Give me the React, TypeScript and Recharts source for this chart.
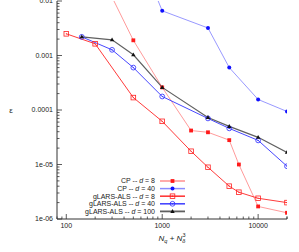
import React from "react";
import { LineChart, Line, XAxis, YAxis } from "recharts";

// N_q + N_delta^3 sample sizes and errors
const cp8X = [200, 500, 1000, 2000, 3000, 5000, 6300, 10000, 20000];
const cp8Y = [0.05, 0.0019, 0.00026, 4.2e-5, 3.9e-5, 2.8e-5, 1.0e-5, 1.7e-6, 1.3e-6];

const cp40X = [500, 1000, 3000, 5000, 10000, 20000];
const cp40Y = [0.13, 0.0066, 0.0032, 6.0e-4, 1.56e-4, 9.4e-5];

const gl8X = [100, 200, 500, 1000, 2000, 3000, 5000, 6300, 10000, 20000];
const gl8Y = [0.0025, 0.00164, 1.69e-4, 6.2e-5, 1.75e-5, 8.9e-6, 4.0e-6, 3.1e-6, 2.4e-6, 2.0e-6];

const gl40X = [145, 300, 500, 1000, 3000, 5000, 10000, 20000];
const gl40Y = [0.0022, 0.00127, 6.0e-4, 1.77e-4, 7.0e-5, 4.6e-5, 2.77e-5, 9.3e-6];

const gl100X = [145, 300, 500, 1000, 3000, 5000, 10000, 20000];
const gl100Y = [0.0022, 0.00194, 0.00103, 2.6e-4, 7.3e-5, 5.0e-5, 3.15e-5, 1.67e-5];

const xDecades = [10, 100, 1000, 10000];
const yDecades = [1e-6, 1e-5, 1e-4, 1e-3];
const xDomain = [80, 20000];
const yDomain = [1e-6, 0.01];

const xTicks = xDecades
  .flatMap((d) => [1, 2, 3, 4, 5, 6, 7, 8, 9].map((k) => k * d))
  .filter((v) => v >= xDomain[0] && v <= xDomain[1])
  .concat([20000]);
const yTicks = yDecades.flatMap((d) => [1, 2, 3, 4, 5, 6, 7, 8, 9].map((k) => k * d)).concat([0.01]);

const zip = (xs: number[], ys: number[]) => xs.map((x, i) => ({ x, y: ys[i] }));

const FONT = "'Liberation Sans', Arial, sans-serif";
const AXIS = "#333";

const isMajor = (v: number) => Math.abs(Math.log10(v) - Math.round(Math.log10(v))) < 1e-6;
const fmtY = (v: number) => {
  const e = Math.round(Math.log10(v));
  return e <= -5 ? `1e-0${-e}` : String(v);
};

type Marker = "fsquare" | "fcircle" | "osquare" | "ocircle" | "triangle";

const series = [
  { name: "CP", d: "8", data: zip(cp8X, cp8Y), line: "#ff8f8f", mark: "#ff1a1a", width: 0.9, marker: "fsquare" as Marker },
  { name: "CP", d: "40", data: zip(cp40X, cp40Y), line: "#8c8cff", mark: "#1010ff", width: 0.9, marker: "fcircle" as Marker },
  { name: "gLARS-ALS", d: "8", data: zip(gl8X, gl8Y), line: "#ff3b3b", mark: "#ff2020", width: 1, marker: "osquare" as Marker },
  { name: "gLARS-ALS", d: "40", data: zip(gl40X, gl40Y), line: "#4848ff", mark: "#2a2aff", width: 1, marker: "ocircle" as Marker },
  { name: "gLARS-ALS", d: "100", data: zip(gl100X, gl100Y), line: "#606060", mark: "#111", width: 1.2, marker: "triangle" as Marker },
];

function drawMarker(kind: Marker, cx: number, cy: number, color: string, key?: any) {
  switch (kind) {
    case "fsquare":
      return <rect key={key} x={cx - 1.9} y={cy - 1.9} width={3.8} height={3.8} fill={color} />;
    case "fcircle":
      return <circle key={key} cx={cx} cy={cy} r={2} fill={color} />;
    case "osquare":
      return (
        <g key={key}>
          <rect x={cx - 2.3} y={cy - 2.3} width={4.6} height={4.6} fill="none" stroke={color} strokeWidth={0.8} />
          <circle cx={cx} cy={cy} r={0.6} fill={color} />
        </g>
      );
    case "ocircle":
      return (
        <g key={key}>
          <circle cx={cx} cy={cy} r={2.4} fill="none" stroke={color} strokeWidth={0.8} />
          <circle cx={cx} cy={cy} r={0.6} fill={color} />
        </g>
      );
    default:
      return <path key={key} d={`M${cx},${cy - 2.4}L${cx + 2.2},${cy + 1.5}L${cx - 2.2},${cy + 1.5}Z`} fill={color} />;
  }
}

const LeftTick = (p: any) => {
  const v = p.payload.value;
  const major = isMajor(v);
  const edge = p.x + 4;
  return (
    <g>
      <line x1={edge} x2={edge + (major ? 5 : 2.5)} y1={p.y} y2={p.y} stroke={AXIS} strokeWidth={0.8} />
      {major && (
        <text x={p.x} y={p.y} dy="0.35em" textAnchor="end" fontSize={7} fontFamily={FONT} fill="#222">
          {fmtY(v)}
        </text>
      )}
    </g>
  );
};

const RightTick = (p: any) => {
  const major = isMajor(p.payload.value);
  return <line x1={p.x} x2={p.x - (major ? 5 : 2.5)} y1={p.y} y2={p.y} stroke={AXIS} strokeWidth={0.8} />;
};

const BottomTick = (p: any) => {
  const v = p.payload.value;
  const major = isMajor(v);
  const edge = p.y - 4;
  return (
    <g>
      <line x1={p.x} x2={p.x} y1={edge} y2={edge - (major ? 5 : 2.5)} stroke={AXIS} strokeWidth={0.8} />
      {major && (
        <text x={p.x} y={p.y} dy="0.75em" textAnchor="middle" fontSize={7} fontFamily={FONT} fill="#222">
          {v}
        </text>
      )}
    </g>
  );
};

const TopTick = (p: any) => {
  const major = isMajor(p.payload.value);
  return <line x1={p.x} x2={p.x} y1={p.y} y2={p.y + (major ? 5 : 2.5)} stroke={AXIS} strokeWidth={0.8} />;
};

const XLabel = (p: any) => {
  const vb = p.viewBox;
  return (
    <text x={vb.x + vb.width / 2} y={vb.y + 22} textAnchor="middle" fontSize={8} fontFamily={FONT} fill="#222">
      <tspan fontStyle="italic">N</tspan>
      <tspan fontStyle="italic" fontSize={5.5} dy={2}>q</tspan>
      <tspan dy={-2}> + </tspan>
      <tspan fontStyle="italic">N</tspan>
      <tspan fontStyle="italic" fontSize={5.5} dy={2}>δ</tspan>
      <tspan fontSize={5.5} dx={-3} dy={-6}>3</tspan>
    </text>
  );
};

const YLabel = (p: any) => {
  const vb = p.viewBox;
  return (
    <text x={11} y={vb.y + vb.height / 2} dy="0.35em" textAnchor="middle" fontSize={8} fontFamily={FONT} fill="#222">
      ε
    </text>
  );
};

function ChartLegend() {
  return (
    <svg width={190} height={42} style={{ position: "absolute", left: 0, top: 176 }}>
      {series.map((s, i) => {
        const y = 5 + i * 7.6;
        return (
          <g key={i}>
            <text x={155} y={y} dy="0.35em" textAnchor="end" fontSize={7} fontFamily={FONT} fill="#222">
              {s.name} -- <tspan fontStyle="italic">d</tspan> = {s.d}
            </text>
            <line x1={160} x2={185} y1={y} y2={y} stroke={s.line} strokeWidth={s.width + 0.6} />
            {drawMarker(s.marker, 172.5, y, s.mark)}
          </g>
        );
      })}
    </svg>
  );
}

export default function App() {
  return (
    <div style={{ position: "fixed", left: 0, top: 0, width: 299, height: 252, background: "#fff" }}>
      <LineChart width={299} height={252} margin={{ top: 1, right: 12, bottom: 0, left: 0 }}>
        <XAxis
          xAxisId="b"
          dataKey="x"
          type="number"
          scale="log"
          domain={xDomain}
          allowDataOverflow
          ticks={xTicks}
          interval={0}
          height={33}
          tickSize={0}
          tickMargin={4}
          tick={BottomTick}
          stroke={AXIS}
          label={{ content: XLabel }}
        />
        <XAxis
          xAxisId="t"
          orientation="top"
          dataKey="x"
          type="number"
          scale="log"
          domain={xDomain}
          allowDataOverflow
          ticks={xTicks}
          interval={0}
          height={0}
          tickSize={0}
          tickMargin={0}
          tick={TopTick}
          stroke={AXIS}
        />
        <YAxis
          yAxisId="l"
          type="number"
          scale="log"
          domain={yDomain}
          allowDataOverflow
          ticks={yTicks}
          interval={0}
          width={57}
          tickSize={0}
          tickMargin={4}
          tick={LeftTick}
          stroke={AXIS}
          label={{ content: YLabel }}
        />
        <YAxis
          yAxisId="r"
          orientation="right"
          type="number"
          scale="log"
          domain={yDomain}
          allowDataOverflow
          ticks={yTicks}
          interval={0}
          width={0}
          tickSize={0}
          tickMargin={0}
          tick={RightTick}
          stroke={AXIS}
        />
        {series.map((s, i) => (
          <Line
            key={i}
            xAxisId="b"
            yAxisId="l"
            data={s.data}
            dataKey="y"
            stroke={s.line}
            strokeWidth={s.width}
            isAnimationActive={false}
            dot={(p: any) => drawMarker(s.marker, p.cx, p.cy, s.mark, p.index)}
            activeDot={false}
          />
        ))}
      </LineChart>
      <ChartLegend />
    </div>
  );
}
